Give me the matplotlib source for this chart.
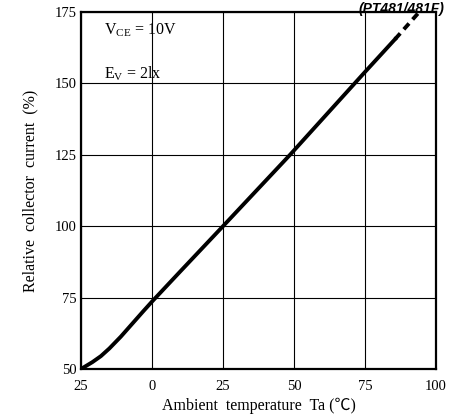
import matplotlib
matplotlib.use('Agg')
import matplotlib.pyplot as plt

plt.rcParams['font.family'] = ['Liberation Serif', 'Noto Sans CJK JP', 'DejaVu Sans']
plt.rcParams['mathtext.fontset'] = 'custom'
plt.rcParams['mathtext.rm'] = 'Liberation Serif'

# Relative collector current vs ambient temperature
temp_solid = [-25, -21, -18, -15, -11, -7, -3, 0, 5, 10, 25, 48.6, 75, 85.6]
current_solid = [50, 52.4, 54.5, 57.2, 61.3, 65.8, 70.3, 73.6, 78.9, 84.2, 100, 125, 154, 165.5]
temp_dashed = [85.6, 95]
current_dashed = [165.5, 176]

x_ticks = [-25, 0, 25, 50, 75, 100]
x_labels = ['25', '0', '25', '50', '75', '100']
y_ticks = [50, 75, 100, 125, 150, 175]

fig = plt.figure(figsize=(4.51, 4.16), dpi=100)
ax = fig.add_axes([0.1796, 0.113, 0.787, 0.858])

ax.plot(temp_solid, current_solid, color='black', lw=2.8, solid_joinstyle='round')
ax.plot(temp_dashed, current_dashed, color='black', lw=2.8, ls=(0, (2.0, 1.4)))

ax.set_xlim(-25, 100)
ax.set_ylim(50, 175)
ax.set_xticks(x_ticks)
ax.set_xticklabels(x_labels)
ax.set_yticks(y_ticks)
ax.tick_params(axis='x', length=0, labelsize=10.5, pad=8)
ax.tick_params(axis='y', length=0, labelsize=10.5, pad=3)
ax.grid(True, color='black', lw=0.8)
for s in ax.spines.values():
    s.set_linewidth(1.6)

ax.set_xlabel('Ambient  temperature  Ta (\u2103)', fontsize=11.5, labelpad=3)
ax.set_ylabel('Relative  collector  current  (%)', fontsize=11.5, labelpad=12)

ax.text(-17, 168.5, r'V$_{\rm CE}$ = 10V', fontsize=11.5, va='center')
ax.text(-17, 153.5, r'E$_{\rm V}$ = 2lx', fontsize=11.5, va='center')

fig.text(0.985, 0.996, '(PT481/481F)', fontsize=10, fontweight='bold', style='italic',
         family='Liberation Sans', ha='right', va='top')

fig.savefig('out.png', dpi=100)
